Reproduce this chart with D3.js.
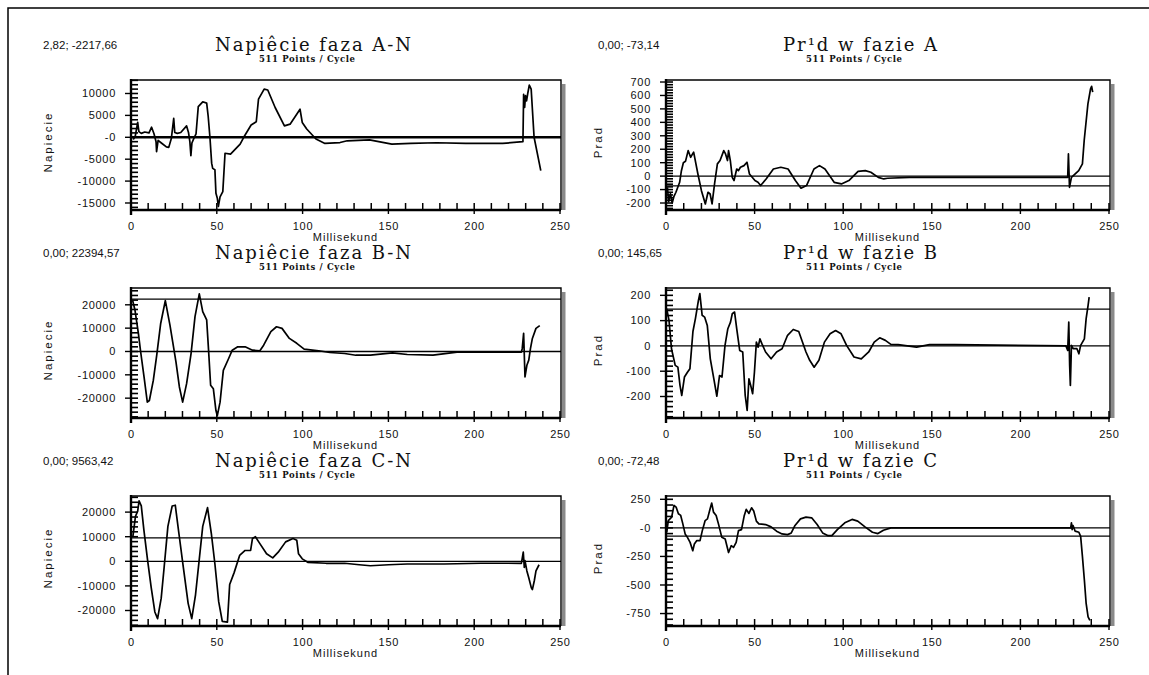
<!DOCTYPE html>
<html>
<head>
<meta charset="utf-8">
<script src="https://cdn.jsdelivr.net/npm/d3@7"></script>
<style>
  body { margin: 0; background: #fff; }
  svg text { fill: #111; font-family: "Liberation Sans", Arial, sans-serif; }
  .tl { font-size: 11px; letter-spacing: 0.7px; }
  .coord { font-size: 11.5px; }
  .title { font-family: "DejaVu Serif", serif !important; font-size: 18px; }
  .sub { font-family: "DejaVu Serif", serif !important; font-size: 8.5px; font-weight: bold; }
  .ylab { font-size: 11.5px; letter-spacing: 2px; }
  .xlab { font-size: 11px; letter-spacing: 1px; }
</style>
</head>
<body>
<svg id="chart" width="1149" height="675"></svg>
<script>
// ---- data ----

// Napiecie faza A-N
const tAN = [1.3, 2.5, 3.9, 4.6, 6, 8, 10.5, 12, 13.4, 14.6, 14.9, 15.8, 17.7, 20.6, 22, 23.5, 24.9, 25.5, 27, 29, 32.4, 33.5, 34.3, 34.9, 35.5, 36.7, 37.9, 39.2, 41.8, 44.1, 45, 46, 47, 47.6, 48.9, 49.5, 50.3, 50.9, 51.9, 53.5, 54.8, 58, 63.6, 65.7, 70, 73, 74.3, 77.6, 79.7, 84, 89.4, 92.7, 96, 98.5, 99.8, 102.4, 107.8, 113, 121.8, 126, 139, 152, 163, 178, 195, 216.6, 228.4, 228.8, 229.4, 229.9, 230.5, 231.2, 232.1, 233.2, 234.9, 238.8];
const vAN = [-500, 300, 3400, 1300, 900, 1200, 1000, 2300, 800, -1000, -3300, -700, -1300, -2200, -2300, -300, 4300, 1100, 900, 1100, 2600, 1100, -1000, -4200, -1300, -200, 800, 7000, 8100, 7800, 4700, 0, -5900, -7100, -7400, -12800, -13900, -15800, -13600, -12400, -3650, -3830, -1550, 0, 2800, 3540, 8700, 11000, 10800, 6800, 2600, 3000, 4900, 6400, 3400, 1900, -400, -1400, -1200, -800, -600, -1550, -1400, -1250, -1400, -1400, -1000, 9800, 6800, 9500, 8300, 10000, 11900, 11000, 0, -7600];

// Prad w fazie A
const tPA = [0.8, 1.5, 2.5, 3.5, 4.5, 5.6, 7.7, 8.7, 9.8, 11, 12.5, 13.9, 15.6, 18, 20, 22.2, 23.7, 24.9, 26, 27.4, 29, 30.5, 32.6, 33.6, 34.7, 35.3, 36.3, 37.4, 38.4, 39.9, 40.9, 42, 44, 45.7, 47.1, 50.2, 51.9, 53.4, 56.5, 60.6, 64.8, 68.9, 73, 76.2, 79.3, 83.5, 86.6, 89.7, 94.9, 99, 103.2, 108.4, 112.5, 115.6, 119.8, 122.9, 125, 137.4, 151, 171.7, 178, 222.5, 226.7, 227.1, 227.7, 228.8, 232.9, 235, 236, 238.1, 239.6, 240.2, 240.8];
const vPA = [-83, -190, -130, -200, -150, -120, -46, 40, 100, 110, 190, 140, 178, 16, -108, -207, -120, -133, -207, -58, 91, 116, 190, 165, 116, 190, 116, -9, -33, 53, 41, 66, 78, 103, 16, -33, -46, -70, -21, 53, 66, 53, -33, -90, -70, 53, 78, 53, -46, -58, -33, 36, 41, 29, -9, -21, -16, -9, -9, -9, -9, -9, -9, 165, -83, -9, 41, 91, 265, 538, 650, 668, 625];

// Napiecie faza B-N
const tBN = [1, 2.3, 4.3, 5.6, 7.6, 9.5, 10.7, 13, 15, 17.3, 20, 22.7, 24.3, 26.2, 28.2, 30.1, 32.4, 35, 37.3, 39.8, 41.8, 44.1, 45.2, 46.4, 48, 49.5, 50.3, 51.9, 53.8, 56.9, 59, 62.2, 66.5, 70.8, 75.1, 77.3, 81.5, 84.8, 88, 92.3, 96.6, 100.9, 109.4, 115.9, 124.5, 131, 139.5, 152.4, 161, 176, 190, 227.5, 228, 228.8, 229.2, 229.6, 230.7, 231.8, 232.8, 233.9, 236, 238.2];
const vBN = [21800, 17800, 7750, 0, -10900, -21700, -21000, -12400, -1600, 12000, 21800, 11300, 4100, -4500, -15200, -21700, -13800, -900, 14900, 24700, 17100, 13500, 560, -14500, -16000, -25300, -27500, -21700, -8100, -3000, 570, 2000, 2000, 570, 300, 2700, 8500, 10600, 9900, 5600, 3500, 1000, 300, -430, -870, -1600, -1600, -570, -1300, -1600, -300, -300, 1300, 7800, -1600, -10900, -5900, -3700, 1300, 5600, 9900, 11100];

// Prad w fazie B
const tPB = [0.4, 1.7, 3.1, 5.2, 6.7, 7.9, 8.9, 10.4, 12.1, 13.5, 15.2, 16.6, 18.3, 19.1, 20.4, 21.8, 23.3, 25, 27, 28.7, 30.2, 31.6, 33.3, 34.9, 36.4, 37.4, 38.7, 39.9, 41.6, 43.3, 44.7, 45.8, 46.8, 47.8, 48.9, 49.9, 51, 52, 53, 54.1, 56.2, 59.3, 62.4, 65.5, 68.6, 71.8, 74.9, 79, 81.1, 83.6, 86.3, 89.4, 92.6, 95.7, 98.8, 101.9, 106.1, 110.2, 114.4, 117.5, 120.6, 123.8, 126.9, 131, 136.2, 141.4, 148.7, 163, 225.7, 226.7, 227.3, 227.8, 228.2, 228.8, 229.8, 231.9, 233, 234, 236.1, 237.1, 238.2, 238.8];
const vPB = [147, 101, -11, -77, -84, -156, -196, -123, -104, -90, 57, 108, 180, 207, 121, 114, 81, -51, -130, -199, -117, -123, 2, 68, 94, 127, 134, 68, -18, -24, -196, -255, -130, -156, -189, -104, 15, -5, 28, 9, -24, -51, -24, -11, 42, 65, 57, -24, -57, -84, -57, 15, 48, 61, 48, 2, -44, -51, -24, 15, 32, 22, 6, 5, 0, -5, 5, 5, 0, -18, 94, -77, -156, 2, -11, -11, -31, 2, 28, 108, 160, 193];

// Napiecie faza C-N
const tCN = [1.1, 2.6, 3.9, 4.7, 6, 7.5, 9.7, 11.8, 13.9, 15.5, 17.6, 19.3, 21.5, 24, 25.8, 27.9, 30.5, 33.3, 35.4, 37.6, 39.7, 41.8, 44.6, 46.8, 48.9, 51.1, 53.2, 56.2, 57.5, 60.1, 63.3, 66.5, 69.7, 70.8, 72.5, 75.1, 79, 82.6, 85.8, 90.1, 94.4, 96.6, 97.6, 99.8, 103, 113.7, 124.5, 133, 139.5, 150.2, 161, 182.4, 203.9, 227.5, 228.6, 229.2, 229.6, 230.7, 231.8, 233.3, 233.9, 235, 236, 237.8];
const vCN = [10000, 18300, 20400, 24600, 22500, 12800, 300, -10800, -20600, -23300, -15000, -2500, 14200, 22500, 22800, 11400, -2500, -17100, -23300, -13600, 300, 14200, 21800, 11400, -1100, -16400, -24400, -24700, -9400, -4600, 2400, 4400, 4400, 9300, 10000, 7200, 3100, 1400, 3700, 7900, 9300, 8600, 3100, 1000, -400, -800, -800, -1400, -1800, -1400, -1100, -1100, -800, -800, 3700, -2500, 300, -3900, -6700, -10800, -11500, -8000, -3900, -1400];

// Prad w fazie C
const tPC = [0.4, 1.3, 3.2, 4.5, 5.7, 7, 8.3, 9.5, 10.8, 12.1, 13.6, 15.1, 16, 17.3, 19.2, 20.5, 22.1, 23.4, 24.9, 25.8, 26.8, 28.3, 29.6, 31.5, 33.4, 35.3, 36.8, 38.1, 39.6, 40.9, 42.6, 44.1, 45.3, 46.8, 48.3, 49.5, 51, 52.4, 56.2, 59.3, 62.4, 65.5, 68.6, 70.7, 72.8, 75.9, 79, 82.2, 85.3, 88.4, 91.5, 93.6, 96.7, 100.9, 105, 108.2, 112.3, 116.5, 119.6, 122.7, 126.9, 228.4, 228.8, 229.2, 229.7, 230.9, 233, 234, 235, 236.1, 237.1, 238.2, 239.2];
const vPC = [-39, 64, 94, 197, 182, 124, 109, 35, -53, -83, -127, -200, -141, -112, -112, -24, 64, 79, 168, 217, 138, 109, 35, -83, -97, -216, -156, -171, -127, -24, -15, 103, 162, 126, 176, 147, 59, 35, 29, 9, -29, -53, -59, -44, 21, 79, 94, 88, 29, -44, -68, -68, -15, 44, 74, 59, 9, -38, -50, -21, 0, 0, 44, -15, 21, -29, -38, -74, -250, -456, -662, -779, -809];

// tick labels
const xTicks = [0, 50, 100, 150, 200, 250];
const yTicksAN = [10000, 5000, 0, -5000, -10000, -15000];
const yLabelsAN = ["10000", "5000", "-0", "-5000", "-10000", "-15000"];
const yTicksPA = [700, 600, 500, 400, 300, 200, 100, 0, -100, -200];
const yLabelsPA = ["700", "600", "500", "400", "300", "200", "100", "0", "-100", "-200"];
const yTicksBN = [20000, 10000, 0, -10000, -20000];
const yLabelsBN = ["20000", "10000", "0", "-10000", "-20000"];
const yTicksPB = [200, 100, 0, -100, -200];
const yLabelsPB = ["200", "100", "0", "-100", "-200"];
const yTicksCN = [20000, 10000, 0, -10000, -20000];
const yLabelsCN = ["20000", "10000", "0", "-10000", "-20000"];
const yTicksPC = [250, 0, -250, -500, -750];
const yLabelsPC = ["250", "-0", "-250", "-500", "-750"];

// titles / cursor readouts
const titles = ["Napiêcie faza A-N", "Pr¹d w fazie A", "Napiêcie faza B-N", "Pr¹d w fazie B", "Napiêcie faza C-N", "Pr¹d w fazie C"];
const cursorText = ["2,82; -2217,66", "0,00; -73,14", "0,00; 22394,57", "0,00; 145,65", "0,00; 9563,42", "0,00; -72,48"];
const cursorVals = [null, -73.14, 22394.57, 145.65, 9563.42, -72.48];
const yNames = ["Napiecie", "Prad", "Napiecie", "Prad", "Napiecie", "Prad"];

// ---- layout ----
const colX = [[131, 560], [666, 1109]];
const rowTop = [80, 288, 496];
const plotH = 130;

const panels = [
  { t: tAN, v: vAN, dom: [-16600, 13080], ticks: yTicksAN, labels: yLabelsAN, step: 1000 },
  { t: tPA, v: vPA, dom: [-252, 715], ticks: yTicksPA, labels: yLabelsPA, step: 20 },
  { t: tBN, v: vBN, dom: [-28500, 27200], ticks: yTicksBN, labels: yLabelsBN, step: 2000 },
  { t: tPB, v: vPB, dom: [-285, 229], ticks: yTicksPB, labels: yLabelsPB, step: 20 },
  { t: tCN, v: vCN, dom: [-26300, 26550], ticks: yTicksCN, labels: yLabelsCN, step: 2000 },
  { t: tPC, v: vPC, dom: [-859, 279], ticks: yTicksPC, labels: yLabelsPC, step: 50 }
];

const svg = d3.select("#chart");

// outer border
svg.append("path")
  .attr("d", "M8,675V8H1149")
  .attr("fill", "none")
  .attr("stroke", "#000")
  .attr("stroke-width", 1.5);

panels.forEach((p, i) => drawPanel(p, i));

function drawPanel(p, i) {
  let col = i % 2, row = Math.floor(i / 2);
  let [x0, x1] = colX[col];
  let top = rowTop[row], bot = top + plotH;

  let x = d3.scaleLinear().domain([0, 250]).range([x0, x1]);
  let y = d3.scaleLinear().domain(p.dom).range([bot, top]);

  let g = svg.append("g");

  // shadow + frame
  g.append("rect")
    .attr("x", x1 + 2).attr("y", top + 4)
    .attr("width", 3.5).attr("height", plotH - 4)
    .attr("fill", "#8a8a8a");
  g.append("path")
    .attr("d", `M${x0},${top}H${x1 + 1}V${bot}`)
    .attr("fill", "none")
    .attr("stroke", "#000")
    .attr("stroke-width", 1.4);

  // zero + cursor lines
  let refs = cursorVals[i] === null ? [0] : [0, cursorVals[i]];
  g.selectAll(".ref")
    .data(refs)
    .join("line")
    .attr("class", "ref")
    .attr("x1", x0).attr("x2", x1 + 1)
    .attr("y1", d => y(d)).attr("y2", d => y(d))
    .attr("stroke", "#000")
    .attr("stroke-width", cursorVals[i] === null ? 2.6 : 1.3);

  // trace
  let line = d3.line().x(d => x(d[0])).y(d => y(d[1]));
  g.append("path")
    .datum(d3.zip(p.t, p.v))
    .attr("d", line)
    .attr("fill", "none")
    .attr("stroke", "#000")
    .attr("stroke-width", 1.7)
    .attr("stroke-linejoin", "round");

  // minor ladder on the left axis (inside)
  let minor = y.ticks(200).filter(d => d % p.step === 0);
  g.append("g").selectAll("line")
    .data(minor)
    .join("line")
    .attr("x1", x0).attr("x2", x0 + 7)
    .attr("y1", d => y(d)).attr("y2", d => y(d))
    .attr("stroke", "#000").attr("stroke-width", 1.6);

  // labelled y ticks (outside)
  g.append("g").selectAll("line")
    .data(p.ticks)
    .join("line")
    .attr("x1", x0 - 6).attr("x2", x0)
    .attr("y1", d => y(d)).attr("y2", d => y(d))
    .attr("stroke", "#000").attr("stroke-width", 1.4);
  g.append("g").selectAll("text")
    .data(p.ticks)
    .join("text")
    .attr("class", "tl")
    .attr("x", x0 - 15)
    .attr("y", d => y(d))
    .attr("dy", "0.35em")
    .attr("text-anchor", "end")
    .text((d, k) => p.labels[k]);

  // x ticks every 10 ms (inside)
  let xMinor = x.ticks(25);
  g.append("g").selectAll("line")
    .data(xMinor)
    .join("line")
    .attr("x1", d => x(d)).attr("x2", d => x(d))
    .attr("y1", bot).attr("y2", bot - 7)
    .attr("stroke", "#000").attr("stroke-width", 1.5);

  // x labels
  g.append("g").selectAll("line")
    .data(xTicks)
    .join("line")
    .attr("x1", d => x(d)).attr("x2", d => x(d))
    .attr("y1", bot).attr("y2", bot + 4)
    .attr("stroke", "#000").attr("stroke-width", 1.4);
  g.append("g").selectAll("text")
    .data(xTicks)
    .join("text")
    .attr("class", "tl")
    .attr("x", d => x(d) + 0.4)
    .attr("y", bot + 20)
    .attr("text-anchor", "middle")
    .text(d => d);

  // thick axis lines
  g.append("line")
    .attr("x1", x0).attr("x2", x0)
    .attr("y1", top - 1).attr("y2", bot + 5)
    .attr("stroke", "#000").attr("stroke-width", 2.4);
  g.append("line")
    .attr("x1", x0).attr("x2", x1 + 1)
    .attr("y1", bot).attr("y2", bot)
    .attr("stroke", "#000").attr("stroke-width", 2.4);

  // texts
  let cx = (x0 + x1) / 2;
  let titleX = col === 0 ? 313 : 860;
  g.append("text")
    .attr("class", "coord")
    .attr("x", col === 0 ? 43 : 598)
    .attr("y", top - 31)
    .text(cursorText[i]);
  g.append("text")
    .attr("class", "title")
    .attr("x", titleX)
    .attr("y", top - 29)
    .attr("text-anchor", "middle")
    .attr("textLength", col === 0 ? 196 : 154)
    .attr("lengthAdjust", "spacing")
    .text(titles[i]);
  g.append("text")
    .attr("class", "sub")
    .attr("x", titleX - 6)
    .attr("y", top - 18)
    .attr("text-anchor", "middle")
    .attr("textLength", 96)
    .attr("lengthAdjust", "spacing")
    .text("511 Points / Cycle");
  g.append("text")
    .attr("class", "ylab")
    .attr("transform", `translate(${col === 0 ? 52 : 602},${(top + bot) / 2 - 3}) rotate(-90)`)
    .attr("text-anchor", "middle")
    .text(yNames[i]);
  g.append("text")
    .attr("class", "xlab")
    .attr("x", cx)
    .attr("y", bot + 31)
    .attr("text-anchor", "middle")
    .text("Millisekund");
}
</script>
</body>
</html>
